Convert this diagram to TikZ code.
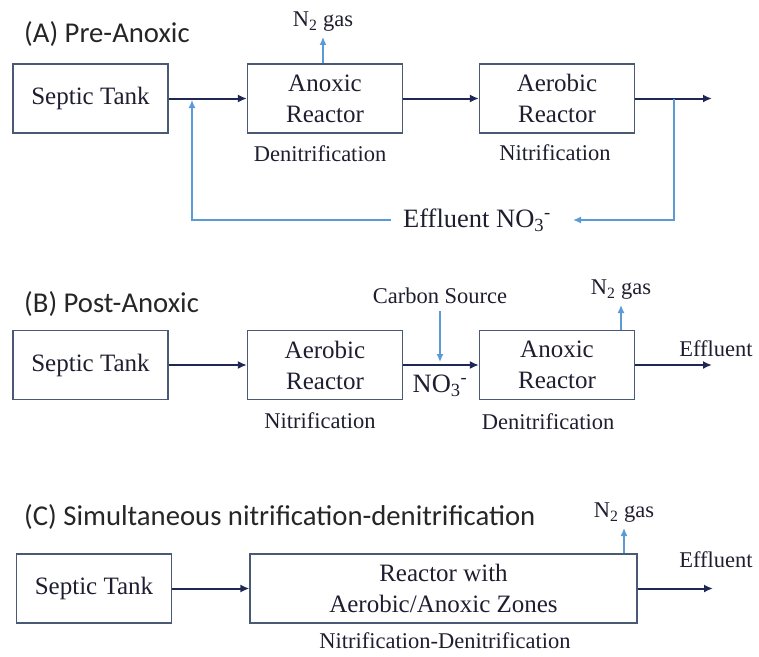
\documentclass[tikz,border=0pt]{standalone}
\usepackage{fontspec}
\setmainfont{Liberation Serif}
\newfontfamily\titlefont{Carlito}
\usetikzlibrary{arrows.meta}
\definecolor{navy}{HTML}{1F2855}
\definecolor{boxline}{HTML}{4A5A75}
\definecolor{flowblue}{HTML}{5B9BD5}
\definecolor{txt}{HTML}{1E1E30}
\begin{document}
\begin{tikzpicture}[x=1pt,y=-1pt,
  box/.style={draw=boxline, line width=1.2pt, minimum width=155pt, minimum height=69pt, inner sep=0pt, align=center, font=\fontsize{25}{31}\selectfont, text=txt},
  lbl/.style={font=\fontsize{22.5}{25}\selectfont, text=txt, inner sep=0pt},
  biglbl/.style={font=\fontsize{26.5}{30}\selectfont, text=txt, inner sep=0pt},
  paneltitle/.style={font=\titlefont\fontsize{28.7}{32}\selectfont, text=black!85, anchor=west, inner sep=0pt},
  flow/.style={draw=navy, line width=2pt, -{Latex[length=9pt,width=8pt]}},
  gas/.style={draw=flowblue, line width=1.3pt, -{Latex[length=8pt,width=7pt]}},
]
\useasboundingbox (0,0) rectangle (759,656);

% ---------- Panel A ----------
\node[paneltitle] (tA) at (24,34) {(A) Pre-Anoxic};
\node[box] (stA) at (90.5,98.5) {Septic Tank};
\node[box] (anA) at (325,98.5) {Anoxic\\Reactor};
\node[box] (aeA) at (557,98.5) {Aerobic\\Reactor};
\node[lbl] (dnA) at (320,154) {Denitrification};
\node[lbl] (niA) at (555,153) {Nitrification};
\coordinate (outA) at (712,98.5);
\coordinate (tapA) at (674,98.5);
\coordinate (joinA) at (192,100);
\draw[flow] (stA) -- (anA);
\draw[flow] (anA) -- (aeA);
\draw[flow] (aeA) -- (outA);
\node[biglbl] (effA) at (477,220) {Effluent NO\textsubscript{3}\textsuperscript{-}};
\draw[gas] (tapA) |- ([xshift=22pt]effA.east);
\draw[gas] ([xshift=-12pt]effA.west) -| (joinA);
\node[lbl] (n2A) at (323,22) {N\textsubscript{2} gas};
\draw[gas] (n2A.south |- anA.north) -- ([yshift=-5pt]n2A.south);

% ---------- Panel B ----------
\node[paneltitle] (tB) at (24,304) {(B) Post-Anoxic};
\node[box] (stB) at (90.5,365) {Septic Tank};
\node[box] (aeB) at (325,365) {Aerobic\\Reactor};
\node[box] (anB) at (557,365) {Anoxic\\Reactor};
\node[lbl] (niB) at (320,421) {Nitrification};
\node[lbl] (dnB) at (548,422) {Denitrification};
\coordinate (outB) at (712,365);
\draw[flow] (stB) -- (aeB);
\draw[flow] (aeB) -- (anB);
\draw[flow] (anB) -- (outB);
\node[lbl] (cs) at (440,296) {Carbon Source};
\coordinate (csin) at (440,362);
\draw[gas] ([yshift=-7pt]cs.south) -- (csin);
\node[biglbl] (no3) at (440,386) {NO\textsubscript{3}\textsuperscript{-}};
\node[lbl] (n2B) at (621,290) {N\textsubscript{2} gas};
\draw[gas] (n2B.south |- anB.north) -- ([yshift=-5pt]n2B.south);
\node[lbl] (effB) at (716,349) {Effluent};

% ---------- Panel C ----------
\node[paneltitle] (tC) at (24,517) {(C) Simultaneous nitrification-denitrification};
\node[box] (stC) at (94,588.5) {Septic Tank};
\node[box, minimum width=387pt] (reC) at (443.5,588.5) {Reactor with\\Aerobic/Anoxic Zones};
\node[lbl] (ndC) at (445,641) {Nitrification-Denitrification};
\coordinate (outC) at (713,588.5);
\draw[flow] (stC) -- (reC);
\draw[flow] (reC) -- (outC);
\node[lbl] (n2C) at (624,513) {N\textsubscript{2} gas};
\draw[gas] (n2C.south |- reC.north) -- ([yshift=-5pt]n2C.south);
\node[lbl] (effC) at (716,560) {Effluent};
\end{tikzpicture}
\end{document}
